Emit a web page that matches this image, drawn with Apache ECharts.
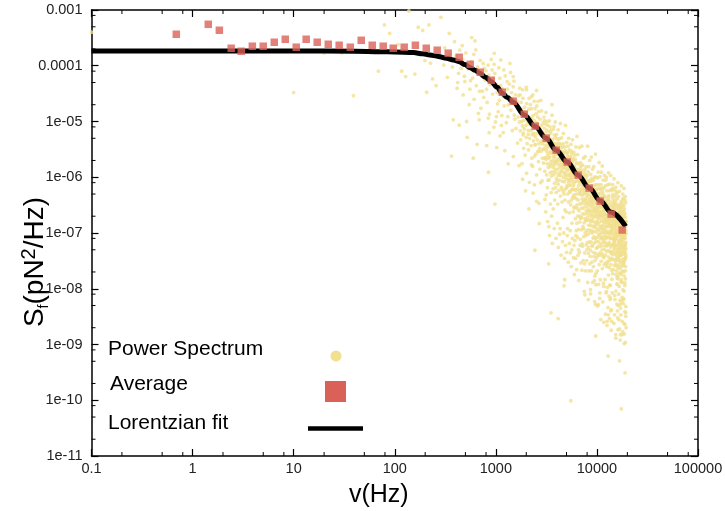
<!DOCTYPE html>
<html><head><meta charset="utf-8">
<script src="https://cdn.jsdelivr.net/npm/echarts@6/dist/echarts.min.js"></script>
<style>html,body{margin:0;padding:0;background:#fff}#c{width:725px;height:511px}</style>
</head><body><div id="c"></div>
<script>
const FONT = "'Liberation Sans', Arial, Helvetica, sans-serif";
const xTickLabels = ['0.1','1','10','100','1000','10000','100000'];
const yTickLabels = ['1e-11','1e-10','1e-09','1e-08','1e-07','1e-06','1e-05','0.0001','0.001'];
const xMinorTicks = [0.2,0.5,0.8,2,5,8,20,50,80,200,500,800,2000,5000,8000,20000,50000,80000];
const yMinorTicks = [2e-11,5e-11,8e-11,2e-10,5e-10,8e-10,2e-9,5e-9,8e-9,2e-8,5e-8,8e-8,2e-7,5e-7,8e-7,2e-6,5e-6,8e-6,2e-5,5e-5,8e-5,2e-4,5e-4,8e-4];

const average = [[0.69,3.67e-4],[1.43,5.54e-4],[1.84,4.33e-4],[2.41,2.06e-4],[3.03,1.82e-4],[3.90,2.24e-4],[5.00,2.24e-4],[6.43,2.64e-4],[8.26,2.99e-4],[10.6,2.15e-4],[13.3,2.99e-4],[17.1,2.64e-4],[22.0,2.43e-4],[28.2,2.33e-4],[36.3,2.15e-4],[46.6,2.86e-4],[59.9,2.33e-4],[76.9,2.24e-4],[96.6,2.06e-4],[124,2.15e-4],[160,2.33e-4],[205,2.06e-4],[263,1.90e-4],[338,1.68e-4],[434,1.42e-4],[558,1.06e-4],[701,7.65e-5],[901,5.50e-5],[1157,3.35e-5],[1486,2.31e-5],[1910,1.35e-5],[2453,8.24e-6],[3150,5.02e-6],[3956,3.06e-6],[5083,1.87e-6],[6530,1.09e-6],[8390,6.38e-7],[10780,3.73e-7],[13840,2.18e-7],[17790,1.13e-7]];

const fitLine = [[0.1,1.84e-4],[10,1.84e-4],[40,1.82e-4],[72,1.79e-4],[100,1.77e-4],[153,1.72e-4],[190,1.64e-4],[222,1.56e-4],[270,1.47e-4],[325,1.36e-4],[380,1.27e-4],[434,1.18e-4],[495,1.05e-4],[558,9.25e-5],[620,8.3e-5],[695,7.34e-5],[790,6.2e-5],[901,5.19e-5],[1030,4.1e-5],[1157,3.21e-5],[1300,2.7e-5],[1486,2.22e-5],[1910,1.31e-5],[2453,8.1e-6],[3150,5.0e-6],[3956,3.06e-6],[5083,1.87e-6],[6530,1.09e-6],[8390,6.4e-7],[10780,3.8e-7],[13840,2.35e-7],[19250,1.31e-7]];

const spectrum = [
[0.1,4.0e-4],[10,3.3e-5],[20,1.7e-4],[30,1.7e-4],[39,2.9e-5],[69,8.0e-5],[79,5.4e-4],[89,3.8e-4],[108,2.4e-4],[117,8.0e-5],[128,6.4e-5],[138,9.6e-4],[158,7.1e-5],[171,4.9e-4],[189,4.3e-4],[199,1.24e-4],[207,3.35e-5],[218,5.4e-4],[226,1.11e-4],[237,5.8e-5],[256,4.4e-5],[286,7.4e-4],[306,1.03e-4],[346,3.8e-4],[364,2.4e-6],[379,1.07e-5],[414,3.95e-5],[428,7.3e-5],[434,8.6e-6],[465,2.3e-4],[475,3.0e-5],[494,5.2e-5],[514,1.0e-5],[521,5.2e-6],[553,3.8e-5],[562,5.4e-5],[577,3.2e-4],[598,2.2e-6],[610,2.5e-5],[621,2.8e-4],[634,1.92e-4],[653,3.9e-6],[684,1.07e-5],[690,3.5e-5],[711,1.73e-5],[749,1.1e-4],[760,2.7e-5],[797,8.1e-5],[809,3.8e-5],[812,3.7e-6],[839,1.03e-4],[842,1.15e-5],[847,1.23e-6],[859,6.3e-6],[865,1.35e-5],[919,8.4e-5],[955,7.9e-6],[962,1.06e-4],[965,1.67e-4],[977,7.3e-5],[980,3.3e-7],[1016,1.22e-5],[1020,3.4e-6],[1039,2.07e-5],[1056,1.5e-5],[1096,5.97e-5],[1100,5.5e-6],[1120,1.27e-4],[1146,1.28e-5],[1181,2.8e-5],[1185,6.3e-6],[1200,8.4e-5],[1227,3.0e-6],[1294,5.2e-5],[1303,3.8e-5],[1315,1.22e-5],[1323,1.98e-5],[1326,1.74e-6],[1378,1.1e-4],[1397,7.6e-5],[1483,4.2e-5],[1486,6.4e-5],[1490,2.35e-6],[1542,1.1e-5],[1603,1.85e-5],[1698,1.62e-6],[1727,3.95e-5],[1757,1.5e-5],[1837,8.3e-6],[1840,9.2e-7],[1862,5.75e-6],[1968,5.7e-7],[1980,1.37e-5],[2012,3.7e-5],[2015,1.18e-6],[2089,6.9e-6],[2123,2.7e-7],[2153,5.0e-6],[2254,2.8e-5],[2258,1.67e-6],[2339,5.2e-7],[2376,5.75e-6],[2430,3.8e-6],[2432,4.9e-8],[2529,3.6e-5],[2532,1.1e-6],[2620,2.3e-5],[2624,2.9e-6],[2670,3.4e-7],[2690,1.48e-7],[3330,2.8e-8],[3520,3.7e-9],[4140,2.9e-9],[4730,1.13e-8],[4800,1.45e-8],[5520,9.8e-11],
[312,2.1e-4],[331,6.2e-5],[352,1.6e-4],[371,9.5e-5],[390,2.7e-4],[405,1.5e-4],[420,5.0e-5],[440,1.9e-4],[452,9.0e-5],[470,1.3e-4],[488,6.5e-5],[505,1.7e-4],[530,8.8e-5],[545,2.0e-5],[570,1.2e-4],[590,6.0e-5],[605,1.6e-4],[640,4.4e-5],[660,9.5e-5],[672,1.4e-5],[700,1.25e-4],[720,6.5e-5],[735,3.5e-5],[770,9.0e-5],[785,5.5e-5],[820,2.2e-5],[850,6.8e-5],[880,4.6e-5],[900,1.3e-4],[930,3.1e-5],[945,5.8e-5],[990,9.8e-6],
[1005,4.6e-5],[1030,3.3e-5],[1070,9.2e-5],[1085,2.4e-5],[1110,4.4e-5],[1135,8.5e-6],[1160,3.9e-5],[1210,1.9e-5],[1240,6.6e-5],[1255,3.1e-5],[1270,9.5e-6],[1340,2.7e-5],[1360,4.7e-5],[1410,1.6e-5],[1430,3.3e-5],[1455,6.9e-6],[1470,2.6e-5],[1510,5.3e-5],[1525,1.3e-5],[1560,3.0e-5],[1580,7.5e-6],[1620,2.3e-5],[1640,4.1e-6],[1660,1.2e-5],[1680,2.9e-5],[1745,6.8e-6],[1775,2.2e-5],[1805,1.0e-5],[1855,2.6e-5],[1885,3.3e-6],[1910,7.4e-6],[1940,1.5e-5],[1995,5.2e-6],[2025,2.1e-5],[2075,9.6e-6],[2105,3.1e-6],[2135,2.6e-5],[2165,1.2e-5],[2215,6.9e-6],[2245,1.7e-5],[2275,2.2e-6],[2300,9.5e-6],[2325,3.0e-5],[2355,4.5e-6],[2385,1.05e-5],[2410,7.3e-7],[2440,1.7e-5],[2465,5.3e-6],[2490,2.6e-6],[2515,9.6e-6],[2545,1.9e-5],[2575,4.7e-6],[2605,1.2e-5],[2640,1.9e-6],[2665,7.9e-6],[2715,3.3e-6],[2745,1.1e-5],[2775,8.0e-7],[2805,4.4e-6],[2835,1.55e-5],[2885,2.2e-6],[2915,6.3e-6],[2965,3.2e-6],[2995,1.2e-5],
[1710,9.8e-6],[1735,3.0e-5],[1760,4.7e-6],[1790,1.65e-5],[1815,1.75e-6],[1845,3.7e-5],[1870,6.2e-6],[1900,1.06e-5],[1925,1.8e-5],[1950,2.5e-6],[1985,8.5e-6],[2005,4.1e-5],[2040,4.0e-6],[2060,1.1e-5],[2095,5.9e-6],[2120,1.66e-5],[2150,8.1e-7],[2175,8.8e-6],[2200,2.0e-5],[2230,3.7e-6],[2262,1.14e-5],[2285,5.8e-6],[2310,1.57e-6],[2342,1.28e-5],[2370,6.2e-6],[2395,2.3e-5],[2420,2.4e-6],[2450,8.2e-6],[2475,3.85e-6],[2500,1.37e-5],[2535,3.7e-7],[2560,6.1e-6],[2590,9.1e-6],[2622,2.9e-6],[2650,1.5e-5],[2680,4.0e-6],[2700,7.0e-6],[2730,1.4e-6],[2760,5.8e-6],[2790,2.4e-5],[2820,2.95e-6],[2850,8.4e-6],[2870,8.6e-7],[2900,4.0e-6],[2930,9.4e-6],[2950,1.8e-6],[2980,5.35e-6],
[3010,3.15e-6],[3030,1.04e-5],[3050,1.28e-6],[3070,6.1e-6],[3090,2.25e-6],[3110,4.4e-6],[3130,1.45e-5],[3150,4.8e-7],[3170,3.3e-6],[3190,7.0e-6],[3210,1.75e-6],[3230,4.8e-6],[3250,2.5e-6],[3270,8.5e-6],[3290,8.8e-7],[3310,3.5e-6],[3330,5.6e-6],[3350,1.3e-7],[3370,2.7e-6],[3390,1.03e-5],[3410,1.7e-6],[3430,4.4e-6],[3450,1.2e-6],[3470,3.7e-6],[3490,6.2e-6],[3510,1.9e-6],[3530,5.3e-7],[3550,4.6e-6],[3570,2.7e-6],[3590,2.0e-5],[3610,1.25e-6],[3630,3.15e-6],[3650,4.8e-6],[3670,2.0e-6],[3690,2.7e-7],[3710,7.3e-6],[3730,1.5e-6],[3750,3.25e-6],[3770,2.25e-6],[3790,5.7e-6],[3810,7.8e-7],[3830,3.6e-6],[3850,1.7e-6],[3870,9.8e-6],[3890,1.2e-6],[3910,2.55e-6],[3930,4.0e-6],[3950,5.3e-7],[3970,1.9e-6],[3990,5.8e-6],
[3120,2.4e-7],[3260,1.6e-7],[3400,9e-8],[3560,2.0e-7],[3620,6.5e-8],[3780,1.2e-7],[3940,8.0e-8],
[3020,7.5e-6],[3040,2.2e-6],[3060,4.0e-7],[3080,3.7e-6],[3100,9.0e-6],[3140,2.1e-6],[3160,5.5e-6],[3180,1.1e-6],[3200,2.9e-6],[3220,1.0e-5],[3240,6.5e-7],[3280,3.9e-6],[3300,1.5e-6],[3320,6.6e-6],[3340,2.2e-6],[3360,9.0e-7],[3380,4.9e-6],[3420,2.3e-6],[3440,8.0e-6],[3460,3.3e-7],[3480,1.55e-6],[3500,2.9e-6],[3520,6.9e-6],[3540,1.05e-6],[3580,3.6e-6],[3600,1.3e-5],[3640,1.7e-6],[3660,2.8e-6],[3680,6.2e-7],[3700,4.1e-6],[3720,1.1e-6],[3740,2.4e-6],[3760,8.2e-6],[3800,1.85e-6],[3820,3.9e-7],[3840,2.8e-6],[3860,1.35e-6],[3880,5.2e-6],[3900,6.5e-7],[3920,1.9e-6],[3960,3.3e-6],[3980,9.5e-7],
[4010,3.2e-6],[4030,8.6e-7],[4045,2.1e-6],[4060,4.8e-6],[4080,1.4e-6],[4100,3.3e-7],[4115,2.6e-6],[4130,7.1e-6],[4150,1.08e-6],[4170,3.5e-6],[4185,1.7e-6],[4200,5.8e-7],[4220,2.7e-6],[4240,2.2e-6],[4255,4.9e-6],[4270,8.9e-7],[4290,1.5e-6],[4310,3.0e-6],[4325,1.2e-7],[4340,2.2e-6],[4360,9.2e-6],[4380,1.08e-6],[4395,2.4e-6],[4410,1.67e-6],[4430,3.4e-6],[4450,6.6e-7],[4465,1.86e-6],[4480,5.1e-6],[4500,1.25e-6],[4520,3.6e-7],[4535,2.6e-6],[4550,2.1e-6],[4570,8.4e-7],[4590,3.5e-6],[4605,1.47e-6],[4620,1.9e-7],[4640,2.65e-6],[4660,6.1e-6],[4675,1.0e-6],[4690,1.8e-6],[4710,2.75e-6],[4730,5.0e-7],[4745,1.45e-6],[4760,2.1e-6],[4780,8.3e-7],[4800,3.5e-6],[4815,1.17e-6],[4830,3.9e-7],[4850,2.1e-6],[4870,1.56e-6],[4885,8.5e-6],[4900,6.2e-7],[4920,1.77e-6],[4940,2.8e-6],[4955,9.5e-7],[4970,2.4e-7],[4990,1.35e-6],[5010,2.15e-6],[5030,4.2e-6],[5045,7.0e-7],[5060,1.57e-6],[5080,1.09e-6],[5100,2.4e-6],[5115,1.2e-7],[5130,1.7e-6],[5150,5.0e-7],[5170,2.8e-6],[5185,9.1e-7],[5200,1.4e-6],[5220,1.88e-6],[5240,3.6e-7],[5255,5.0e-6],[5270,1.09e-6],[5290,7.1e-7],[5310,2.05e-6],[5325,1.43e-6],[5340,2.3e-7],[5360,3.1e-6],[5380,8.8e-7],[5395,1.59e-6],[5410,5.4e-7],[5430,1.16e-6],[5450,2.3e-6],[5465,4.4e-8],[5480,1.39e-6],[5500,7.2e-7],[5520,1.8e-6],[5535,3.9e-6],[5550,3.8e-7],[5570,9.8e-7],[5590,1.53e-6],[5605,5.9e-7],[5620,1.2e-6],[5640,2.6e-6],[5660,1.5e-7],[5675,8.3e-7],[5690,1.86e-6],[5710,1.29e-6],[5730,4.2e-7],[5745,4.7e-6],[5760,9.5e-7],[5780,1.54e-6],[5800,6.1e-7],[5815,2.4e-7],[5830,1.26e-6],[5850,2.06e-6],[5870,7.1e-7],[5885,1.06e-6],[5900,2.8e-6],[5920,4.8e-7],[5940,1.3e-6],[5955,7.9e-7],[5970,2.8e-7],[5990,1.58e-6],
[4070,1.5e-7],[4160,5.5e-8],[4280,9.5e-8],[4420,4.0e-8],[4560,7.0e-8],[4700,1.0e-7],[4780,3.5e-8],[4880,6.0e-8],[5000,4.5e-8],[5090,9.0e-8],[5210,3.0e-8],[5330,6.5e-8],[5440,1.1e-7],[5580,2.5e-8],[5650,5.0e-8],[5720,8.0e-8],[5860,3.6e-8],[5930,6.0e-8],[5980,1.8e-8],
[4020,1.9e-6],[4090,3.9e-6],[4140,7.5e-7],[4210,4.1e-6],[4230,1.2e-6],[4300,2.0e-6],[4350,4.6e-7],[4370,3.9e-6],[4440,1.3e-6],[4490,2.9e-6],[4530,6.0e-7],[4580,1.6e-6],[4630,4.0e-6],[4680,5.5e-7],[4720,2.2e-6],[4770,1.2e-6],[4820,2.6e-7],[4860,3.0e-6],[4910,1.1e-6],[4960,2.1e-6],[5020,6.5e-7],[5070,2.7e-6],[5110,1.3e-6],[5160,3.6e-6],[5230,8.0e-7],[5280,1.6e-6],[5350,5.5e-7],[5400,2.3e-6],[5460,1.0e-6],[5510,3.2e-7],[5560,1.9e-6],[5610,2.9e-6],[5680,6.0e-7],[5740,1.1e-6],[5790,2.2e-6],[5840,4.5e-7],[5890,1.5e-6],[5950,2.9e-7],
[6010,1.5e-6],[6030,4.3e-7],[6050,7.3e-8],[6070,2.5e-6],[6090,8.4e-7],[6110,1.8e-7],[6130,1.18e-6],[6150,3.5e-8],[6170,5.8e-7],[6190,3.5e-6],[6210,2.9e-7],[6230,1.0e-6],[6250,1.1e-7],[6270,1.8e-6],[6290,5.0e-7],[6310,2.2e-8],[6330,8.6e-7],[6350,5.4e-6],[6370,3.2e-7],[6390,1.37e-6],[6410,8.3e-8],[6430,6.2e-7],[6450,2.55e-6],[6470,2.0e-7],[6490,1.05e-6],[6510,4.0e-8],[6530,3.9e-7],[6550,1.75e-6],[6570,1.15e-7],[6590,7.1e-7],[6610,1.4e-8],[6630,1.3e-6],[6650,5.1e-7],[6670,2.5e-7],[6690,3.4e-6],[6710,8.1e-7],[6730,4.5e-8],[6750,5.7e-7],[6770,1.0e-6],[6790,1.57e-7],[6810,3.3e-7],[6830,1.45e-6],[6850,7.7e-8],[6870,8.0e-7],[6890,1.84e-7],[6910,1.83e-6],[6930,4.9e-7],[6950,2.9e-8],[6970,1.0e-6],[6990,3.4e-7],
[7010,6.2e-7],[7030,1.14e-7],[7050,1.3e-6],[7070,2.8e-7],[7090,3.6e-6],[7110,2.15e-8],[7130,7.2e-7],[7150,4.1e-7],[7170,9.2e-7],[7190,5.8e-8],[7210,2.2e-7],[7230,1.65e-6],[7250,4.8e-7],[7270,1.3e-7],[7290,1.09e-6],[7310,3.2e-8],[7330,6.2e-7],[7350,2.8e-7],[7370,2.2e-6],[7390,8.6e-8],[7410,7.1e-7],[7430,3.85e-7],[7450,1.22e-6],[7470,1.52e-7],[7490,9.0e-9],[7510,5.1e-7],[7530,8.9e-7],[7550,2.2e-7],[7570,4.4e-8],[7590,1.39e-6],[7610,3.2e-7],[7630,6.1e-7],[7650,1.0e-7],[7670,2.35e-6],[7690,3.9e-7],[7710,7.0e-7],[7730,2.1e-8],[7750,1.66e-7],[7770,9.9e-7],[7790,4.2e-7],[7810,6.1e-8],[7830,1.54e-6],[7850,2.5e-7],[7870,5.3e-7],[7890,1.1e-7],[7910,7.5e-7],[7930,3.2e-8],[7950,2.9e-7],[7970,1.08e-6],[7990,1.7e-7],
[8010,4.8e-7],[8030,6.7e-8],[8050,8.6e-7],[8070,2.2e-7],[8090,3.6e-6],[8110,1.3e-8],[8130,6.1e-7],[8150,3.3e-7],[8170,9.5e-8],[8190,1.25e-6],[8210,2.5e-7],[8230,4.3e-8],[8250,6.7e-7],[8270,3.6e-7],[8290,1.38e-7],[8310,1.55e-6],[8330,5.0e-7],[8350,2.1e-8],[8370,2.6e-7],[8390,8.4e-7],[8410,6.9e-8],[8430,4.0e-7],[8450,1.7e-7],[8470,2.0e-6],[8490,5.65e-7],[8510,2.8e-8],[8530,3.1e-7],[8550,1.05e-7],[8570,8.8e-7],[8590,2.1e-7],[8610,4.9e-8],[8630,6.5e-7],[8650,3.5e-7],[8670,8.1e-9],[8690,1.12e-6],[8710,1.38e-7],[8730,4.2e-7],[8750,6.9e-8],[8770,7.1e-7],[8790,2.5e-7],[8810,2.3e-6],[8830,2.1e-8],[8850,4.6e-7],[8870,1.74e-7],[8890,5.9e-7],[8910,3.0e-8],[8930,2.9e-7],[8950,9.5e-7],[8970,1.0e-7],[8990,3.7e-7],
[9010,5.8e-8],[9030,5.5e-7],[9050,2.2e-7],[9070,1.4e-6],[9090,1.3e-8],[9110,3.2e-7],[9130,6.6e-7],[9150,8.1e-8],[9170,4.4e-7],[9190,1.6e-7],[9210,8.8e-7],[9230,2.5e-8],[9250,2.5e-7],[9270,5.4e-7],[9290,1.07e-7],[9310,1.55e-6],[9330,3.4e-7],[9350,3.8e-8],[9370,1.9e-7],[9390,7.1e-7],[9410,4.5e-7],[9430,6.6e-8],[9450,1.4e-8],[9470,2.8e-7],[9490,1.0e-6],[9510,1.28e-7],[9530,5.5e-7],[9550,2.1e-7],[9570,3.2e-8],[9590,3.8e-7],[9610,7.3e-7],[9630,8.0e-8],[9650,2.4e-7],[9670,2.6e-6],[9690,5.2e-9],[9710,4.3e-7],[9730,1.55e-7],[9750,4.3e-8],[9770,6.0e-7],[9790,2.9e-7],[9810,1.9e-8],[9830,1.0e-6],[9850,1.04e-7],[9870,3.3e-7],[9890,4.5e-7],[9910,5.3e-8],[9930,2.0e-7],[9950,7.3e-7],[9970,1.2e-7],[9990,3.7e-7],
[6020,6.0e-7],[6100,2.1e-6],[6180,9.0e-8],[6260,4.1e-7],[6340,1.5e-7],[6420,1.2e-6],[6500,2.7e-7],[6580,5.0e-8],[6660,8.8e-7],[6740,2.0e-7],[6820,6.0e-8],[6900,5.5e-7],[6980,1.6e-6],[7060,1.9e-7],[7140,6.4e-8],[7220,8.0e-7],[7300,3.6e-7],[7380,1.2e-7],[7460,5.6e-7],[7540,2.8e-8],[7620,1.8e-7],[7700,1.1e-6],[7780,9.0e-8],[7860,3.5e-7],[7940,5.0e-8],[8020,7.8e-7],[8100,1.9e-7],[8180,4.6e-7],[8260,5.5e-8],[8340,1.15e-7],[8420,6.0e-7],[8500,2.4e-7],[8580,3.8e-8],[8660,1.6e-7],[8740,8.5e-7],[8820,1.1e-7],[8900,2.0e-7],[8980,6.0e-8],[9060,3.8e-7],[9140,1.3e-7],[9220,4.5e-8],[9300,6.2e-7],[9380,8.5e-8],[9460,2.6e-7],[9540,1.7e-8],[9620,1.4e-7],[9700,5.8e-7],[9780,7.0e-8],[9860,2.3e-7],[9940,3.6e-8],
[10020,3.8e-7],[10045,8.3e-8],[10070,6.2e-7],[10090,2.1e-8],[10115,2.5e-7],[10140,9.8e-7],[10160,1.43e-7],[10185,4.9e-9],[10210,4.5e-7],[10230,1.8e-7],[10255,4.0e-8],[10280,1.24e-6],[10300,3.0e-7],[10325,1.1e-7],[10350,5.1e-7],[10370,1.2e-8],[10395,2.15e-7],[10420,7.4e-7],[10440,5.8e-8],[10465,3.3e-7],[10490,1.54e-7],[10510,1.84e-6],[10535,2.7e-8],[10560,3.8e-7],[10580,9.5e-8],[10605,2.45e-7],[10630,6.4e-7],[10650,6.7e-9],[10675,1.86e-7],[10700,4.45e-7],[10720,4.4e-8],[10745,1.03e-6],[10770,1.17e-7],[10790,2.9e-7],[10815,1.45e-8],[10840,5.2e-7],[10860,2.15e-7],[10885,7.9e-8],[10910,3.4e-7],[10930,2.8e-9],[10955,7.4e-7],[10980,1.33e-7],[11000,2.45e-7],[11025,3.1e-8],[11050,4.3e-7],[11070,1.66e-7],[11095,1.23e-6],[11120,5.8e-8],[11140,3.6e-7],[11165,1.02e-7],
[11190,6.4e-7],[11215,5.0e-8],[11240,2.85e-7],[11260,1.33e-7],[11285,1.59e-6],[11310,2.3e-8],[11330,3.3e-7],[11355,8.2e-8],[11380,2.1e-7],[11400,5.5e-7],[11425,5.8e-9],[11450,1.6e-7],[11470,3.85e-7],[11495,3.8e-8],[11520,8.9e-7],[11540,1.01e-7],[11565,2.5e-7],[11590,1.26e-8],[11610,4.5e-7],[11635,1.87e-7],[11660,6.8e-8],[11680,2.9e-7],[11705,2.5e-9],[11730,6.4e-7],[11750,1.16e-7],[11775,2.13e-7],[11800,2.7e-8],[11820,3.75e-7],[11845,1.44e-7],[11870,1.08e-6],[11890,5.1e-8],[11915,3.1e-7],[11940,8.9e-8],[11960,2.65e-7],[11985,5.9e-8],[12010,4.4e-7],[12030,1.47e-8],[12055,1.75e-7],[12080,7.0e-7],[12100,1.02e-7],[12125,3.5e-9],[12150,3.2e-7],[12170,1.29e-7],[12195,2.9e-8],[12220,8.8e-7],[12240,2.13e-7],[12265,7.9e-8],[12290,3.7e-7],[12310,8.4e-9],[12335,1.54e-7],
[12360,8.4e-8],[12385,2.9e-7],[12410,4.7e-8],[12430,9.9e-7],[12455,1.32e-7],[12480,3.4e-7],[12500,2.5e-8],[12525,1.9e-7],[12550,1.03e-7],[12570,5.7e-7],[12595,2.2e-9],[12620,2.55e-7],[12640,5.9e-8],[12665,1.6e-7],[12690,3.85e-7],[12710,1.06e-8],[12735,2.1e-7],[12760,8.4e-8],[12780,7.3e-7],[12805,3.1e-8],[12830,3.1e-7],[12850,1.29e-7],[12875,4.6e-9],[12900,4.35e-7],[12920,1.66e-7],[12945,6.4e-8],[12970,2.53e-7],[12990,1.76e-8],[13015,1.2e-6],[13040,1.0e-7],[13060,2.1e-7],[13085,3.7e-8],[13110,4.7e-7],[13130,1.35e-7],[13155,7.4e-9],[13180,3.2e-7],[13200,6.8e-8],[13225,1.8e-7],[13250,7.5e-7],[13270,2.4e-8],[13295,1.08e-7],[13320,2.6e-7],[13340,2.9e-9],[13365,8.3e-8],[13390,5.7e-7],[13410,1.41e-7],[13435,1.17e-8],[13460,3.5e-7],[13480,4.7e-8],[13505,2.1e-7],
[13530,2.1e-7],[13555,1.15e-8],[13580,8.0e-8],[13600,1.03e-7],[13625,1.7e-7],[13650,6.8e-9],[13670,3.4e-8],[13695,1.08e-6],[13720,5.6e-8],[13740,4.0e-9],[13765,2.7e-8],[13790,1.77e-7],[13810,1.33e-7],[13835,1.8e-9],[13860,1.53e-7],[13880,1.05e-7],[13905,2.3e-7],[13930,4.3e-8],[13950,1.3e-7],[13975,2.6e-9],[14000,2.15e-8],[14020,6.0e-8],[14045,1.17e-7],[14070,1.8e-7],[14090,1.48e-8],[14115,1.37e-7],[14140,1.05e-7],[14160,5.9e-7],[14185,8.4e-9],[14210,4.6e-8],[14230,4.4e-7],[14255,1.86e-8],[14280,7.4e-7],[14300,6.2e-8],[14325,3.1e-7],[14350,4.9e-7],[14370,2.25e-7],[14395,6.3e-7],[14420,2.65e-7],[14440,3.85e-7],[14465,8.1e-8],[14490,2.0e-7],[14510,3.4e-7],[14535,2.4e-7],[14560,6.4e-8],[14580,2.9e-7],[14605,1.88e-7],[14630,7.5e-8],[14650,2.45e-7],[14675,3.3e-8],
[14700,1.76e-7],[14725,2.4e-9],[14750,2.55e-7],[14770,9.4e-7],[14795,9.7e-8],[14820,2.8e-7],[14840,1.35e-7],[14865,5.8e-8],[14890,6.7e-8],[14910,5.4e-8],[14935,7.6e-8],[14960,3.4e-9],[14980,7.6e-9],[15005,7.2e-8],[15030,2.0e-7],[15050,4.5e-7],[15075,1.41e-7],[15100,1.6e-7],[15120,3.2e-7],[15145,1.5e-7],[15170,3.9e-7],[15190,3.2e-8],[15215,1.11e-7],[15240,5.7e-7],[15260,2.8e-8],[15285,1.2e-7],[15310,5.9e-8],[15330,1.5e-9],[15355,6.6e-7],[15380,9.1e-9],[15400,1.81e-8],[15425,3.45e-7],[15450,4.5e-8],[15470,5.0e-7],[15495,1.71e-7],[15520,8.6e-8],[15540,2.7e-7],[15565,8.0e-8],[15590,9.8e-8],[15610,1.77e-7],[15635,2.1e-8],[15660,3.9e-8],[15680,2.2e-7],[15705,3.5e-8],[15730,1.93e-7],[15750,5.3e-9],[15775,1.22e-8],[15800,2.1e-7],[15820,1.04e-7],[15845,1.56e-8],
[15870,1.55e-7],[15895,5.3e-7],[15920,1.2e-8],[15940,1.37e-7],[15965,2.1e-7],[15990,4.1e-7],[16010,9.3e-8],[16035,3.0e-9],[16060,1.6e-7],[16080,5.0e-8],[16105,1.67e-8],[16130,8.0e-7],[16150,5.3e-8],[16175,1.5e-8],[16200,9.9e-8],[16220,5.0e-9],[16245,2.8e-7],[16270,3.6e-8],[16290,1.72e-7],[16315,7.3e-8],[16340,6.5e-8],[16360,4.5e-7],[16385,1.13e-7],[16410,8.0e-9],[16430,2.1e-7],[16455,1.05e-7],[16480,9.6e-8],[16500,2.7e-8],[16525,1.76e-7],[16550,1.35e-7],[16570,1.9e-8],[16595,6.0e-8],[16620,2.4e-7],[16640,4.4e-8],[16665,3.9e-8],[16690,2.3e-7],[16710,5.6e-7],[16735,1.9e-9],[16760,2.3e-8],[16780,1.86e-7],[16805,3.25e-7],[16830,3.1e-8],[16850,1.16e-7],[16875,1.54e-7],[16900,6.2e-9],[16920,7.3e-8],[16945,5.4e-8],[16970,2.9e-7],[16990,7.6e-8],[17015,1.2e-9],
[17040,1.37e-7],[17065,4.2e-8],[17090,2.55e-7],[17110,1.5e-9],[17135,2.25e-7],[17160,4.5e-9],[17180,7.5e-8],[17205,5.7e-8],[17230,9.0e-8],[17250,2.8e-7],[17275,1.8e-8],[17300,1.33e-8],[17320,5.2e-8],[17345,1.25e-7],[17370,4.7e-8],[17390,7.0e-8],[17415,1.6e-7],[17440,7.0e-7],[17460,5.8e-9],[17485,2.5e-8],[17510,1.45e-8],[17530,1.45e-7],[17555,8.6e-8],[17580,4.3e-8],[17600,1.08e-7],[17625,9.3e-8],[17650,1.36e-7],[17670,2.9e-8],[17695,1.85e-7],[17720,2.6e-9],[17740,3.0e-7],[17765,7.0e-9],[17790,7.8e-8],[17810,1.7e-7],[17835,9.8e-8],[17860,3.35e-7],[17880,2.1e-8],[17905,3.9e-7],[17930,1.74e-7],[17950,1.7e-9],[17975,5.5e-8],[18000,1.1e-7],[18020,5.0e-7],[18045,6.2e-8],[18070,9.6e-9],[18090,2.0e-7],[18115,1.43e-7],[18140,4.2e-7],[18160,3.4e-8],[18185,3.0e-8],
[18210,1.22e-7],[18235,2.55e-7],[18260,5.4e-9],[18280,2.7e-8],[18305,2.0e-8],[18330,1.93e-7],[18350,2.0e-7],[18375,1.13e-7],[18400,7.9e-8],[18420,6.6e-9],[18445,5.3e-8],[18470,2.9e-8],[18490,8.6e-8],[18515,6.3e-7],[18540,1.24e-7],[18560,3.1e-7],[18585,9.1e-9],[18610,1.04e-9],[18630,4.55e-8],[18655,1.29e-7],[18680,2.7e-7],[18700,1.55e-9],[18725,3.2e-8],[18750,4.9e-8],[18770,1.41e-7],[18795,8.3e-8],[18820,9.0e-8],[18840,5.7e-8],[18865,2.16e-7],[18890,1.14e-8],[18910,1.27e-8],[18935,2.3e-9],[18960,1.58e-7],[18980,3.9e-7],[19005,6.3e-8],[19030,6.0e-8],[19050,9.5e-8],[19075,1.5e-7],[19100,4.5e-7],[19120,3.5e-8],[19145,1.5e-8],[19170,2.1e-8],[19190,1.61e-7],[19215,3.5e-7],[19240,1.3e-7],[19260,3.7e-9],[19285,4.0e-8],[19310,3.7e-8],[19330,6.8e-8],[19355,9.8e-8],
[10010,1.6e-7],[10100,5.5e-8],[10200,2.7e-7],[10290,7.0e-8],[10380,3.6e-7],[10450,9.0e-8],[10550,2.0e-7],[10640,4.0e-8],[10730,1.3e-7],[10800,6.0e-7],[10900,6.5e-8],[10990,3.0e-7],[11080,8.5e-8],[11180,2.0e-7],[11270,4.2e-8],[11370,1.2e-7],[11460,5.0e-7],[11550,7.5e-8],[11650,2.4e-7],[11740,3.6e-8],[11830,1.6e-7],[11930,4.6e-7],[12020,6.8e-8],[12110,2.2e-7],[12200,4.0e-8],[12300,1.1e-7],[12400,3.1e-7],[12490,6.0e-8],[12580,1.8e-7],[12680,2.8e-8],[12770,1.0e-7],[12860,2.7e-7],[12960,4.8e-8],[13050,1.5e-7],[13140,3.9e-7],[13240,6.2e-8],[13330,1.75e-7],[13420,3.2e-8],[13520,9.5e-8],[13610,2.9e-7],[13710,4.5e-8],[13800,1.35e-7],[13890,6.0e-7],[13990,8.0e-8],[14080,2.2e-7],[14170,3.5e-8],[14260,1.2e-7],[14360,4.1e-8],[14450,1.6e-7],[14550,2.2e-8],[14640,9.0e-8],[14740,3.4e-7],[14830,5.0e-8],[14920,1.3e-7],[15020,2.6e-8],[15110,8.0e-8],[15200,2.3e-7],[15300,4.2e-8],[15390,1.05e-7],[15490,2.6e-8],[15580,1.5e-7],[15670,6.0e-8],[15760,3.1e-7],[15860,3.2e-8],[15950,8.8e-8],[16050,1.9e-7],[16140,2.4e-8],[16230,1.25e-7],[16330,4.6e-8],[16420,3.0e-7],[16510,6.8e-8],[16610,1.1e-8],[16700,1.0e-7],[16790,4.0e-8],[16880,2.1e-7],[16980,3.3e-8],[17070,8.5e-8],[17170,1.9e-8],[17260,1.2e-7],[17350,3.6e-7],[17450,4.0e-8],[17540,2.1e-7],[17640,6.4e-8],[17730,1.3e-8],[17820,1.2e-7],[17920,4.6e-8],[18010,2.4e-7],[18100,7.2e-8],[18200,2.6e-8],[18290,1.6e-7],[18390,4.2e-8],[18480,1.0e-7],[18570,1.7e-8],[18670,6.0e-8],[18760,2.3e-7],[18850,3.4e-8],[18950,8.0e-8],[19040,1.9e-7],[19130,4.4e-8],[19230,2.5e-8],[19320,1.1e-7],[19400,5.2e-8],[19470,1.6e-7],
[9750,1.42e-9],[12900,6.2e-10],[16750,5.1e-10],[19000,3.1e-10],[17400,7.0e-11],[19100,1.09e-9],[16000,4.0e-9],[17250,3.4e-9],[19300,3.2e-9],[16500,2.8e-9],[18500,2.4e-9],[19450,2.0e-9],[16200,1.84e-9],[15400,1.3e-9],[17700,1.5e-9],[13900,4.2e-9],[12600,2.6e-9],[12950,3.4e-9],[10300,5.2e-9],[9500,5.9e-9],[10700,8.4e-9],[8200,6.4e-9],[7600,7.8e-9],[8650,9.6e-9],[9760,1.18e-8],[11700,1.1e-8],[13500,6.4e-9],[15100,6.4e-9],[12450,8.9e-9],[18200,6.4e-9],[19320,4.8e-9],[16900,5.2e-9],[18900,3.9e-9]
];

const YELLOW = '#F1E08F';
const RED = '#DA6157';

function xLab(v){ return xTickLabels[Math.round(Math.log10(v)) + 1] || ''; }
function yLab(v){ return yTickLabels[Math.round(Math.log10(v)) + 11] || ''; }

const chart = echarts.init(document.getElementById('c'), null, {renderer:'canvas'});
const axisBase = {
  type:'log', logBase:10, splitLine:{show:false}, minorTick:{show:false},
  axisLine:{show:true, lineStyle:{color:'#000', width:1.5}},
  axisTick:{show:true, inside:true, length:7, lineStyle:{color:'#000', width:1.2}}
};
chart.setOption({
  animation:false,
  textStyle:{fontFamily:FONT},
  grid:{left:91.5, right:27, top:10, bottom:55, containLabel:false, outerBoundsMode:'none'},
  xAxis:[
    Object.assign({}, axisBase, {min:0.1, max:100000, position:'bottom',
      axisLabel:{show:true, margin:5, fontSize:14.5, color:'#222', fontFamily:FONT, formatter:xLab},
      name:'v(Hz)', nameLocation:'middle', nameGap:27, nameMoveOverlap:false,
      nameTextStyle:{fontSize:25, color:'#000', fontFamily:FONT, padding:[0,32,0,0]}}),
    Object.assign({}, axisBase, {min:0.1, max:100000, position:'top', axisLabel:{show:false}})
  ],
  yAxis:[
    Object.assign({}, axisBase, {min:1e-11, max:1e-3, position:'left',
      axisLabel:{show:true, margin:9, fontSize:14.5, color:'#222', fontFamily:FONT, formatter:yLab},
      name:'{a|S}{s|f}{a|(pN}{p|2}{a|/Hz)}', nameLocation:'middle', nameGap:40, nameMoveOverlap:false,
      nameTextStyle:{fontFamily:FONT, color:'#000', padding:[0,58,0,0],
        rich:{
          a:{fontSize:28, fontFamily:FONT, color:'#000', lineHeight:32},
          s:{fontSize:14, fontFamily:FONT, color:'#000', verticalAlign:'bottom', lineHeight:32},
          p:{fontSize:20, fontFamily:FONT, color:'#000', verticalAlign:'top', lineHeight:32}
        }}}),
    Object.assign({}, axisBase, {min:1e-11, max:1e-3, position:'right', axisLabel:{show:false}})
  ],
  series:[
    {name:'Power Spectrum', type:'scatter', data:spectrum, symbol:'circle', symbolSize:3.8,
     itemStyle:{color:YELLOW}, silent:true, z:2},
    {name:'Lorentzian fit', type:'line', data:fitLine, showSymbol:false, symbol:'none',
     smooth:0.35, smoothMonotone:'x',
     lineStyle:{color:'#000', width:5, join:'round'}, silent:true, z:3},
    {name:'Average', type:'scatter', data:average, symbol:'rect', symbolSize:7.5,
     itemStyle:{color:RED}, silent:true, z:4},
    {name:'xMinor', type:'custom', silent:true, z:5, clip:false,
     data:xMinorTicks.map(v=>[v,1e-7]),
     renderItem:function(params, api){
       const cs = params.coordSys;
       const px = api.coord([api.value(0), 1e-7])[0];
       const b = cs.y + cs.height;
       return {type:'group', children:[
         {type:'line', shape:{x1:px,y1:b,x2:px,y2:b-4}, style:{stroke:'#000', lineWidth:1}},
         {type:'line', shape:{x1:px,y1:cs.y,x2:px,y2:cs.y+4}, style:{stroke:'#000', lineWidth:1}}
       ]};
     }},
    {name:'yMinor', type:'custom', silent:true, z:5, clip:false,
     data:yMinorTicks.map(v=>[1,v]),
     renderItem:function(params, api){
       const cs = params.coordSys;
       const py = api.coord([1, api.value(1)])[1];
       const r = cs.x + cs.width;
       return {type:'group', children:[
         {type:'line', shape:{x1:cs.x,y1:py,x2:cs.x+4,y2:py}, style:{stroke:'#000', lineWidth:1}},
         {type:'line', shape:{x1:r,y1:py,x2:r-4,y2:py}, style:{stroke:'#000', lineWidth:1}}
       ]};
     }}
  ],
  graphic:[
    {type:'text', x:108, y:349, silent:true, style:{text:'Power Spectrum', font:'21px '+FONT, fill:'#000', verticalAlign:'middle', align:'left'}},
    {type:'text', x:110, y:384, silent:true, style:{text:'Average', font:'21px '+FONT, fill:'#000', verticalAlign:'middle', align:'left'}},
    {type:'text', x:108, y:423, silent:true, style:{text:'Lorentzian fit', font:'21px '+FONT, fill:'#000', verticalAlign:'middle', align:'left'}},
    {type:'circle', silent:true, shape:{cx:336, cy:356, r:5.5}, style:{fill:YELLOW}},
    {type:'rect', silent:true, shape:{x:325, y:381, width:21, height:21}, style:{fill:RED}},
    {type:'line', silent:true, shape:{x1:308, y1:428.5, x2:363, y2:428.5}, style:{stroke:'#000', lineWidth:4.5}}
  ]
});
</script>
</body></html>
